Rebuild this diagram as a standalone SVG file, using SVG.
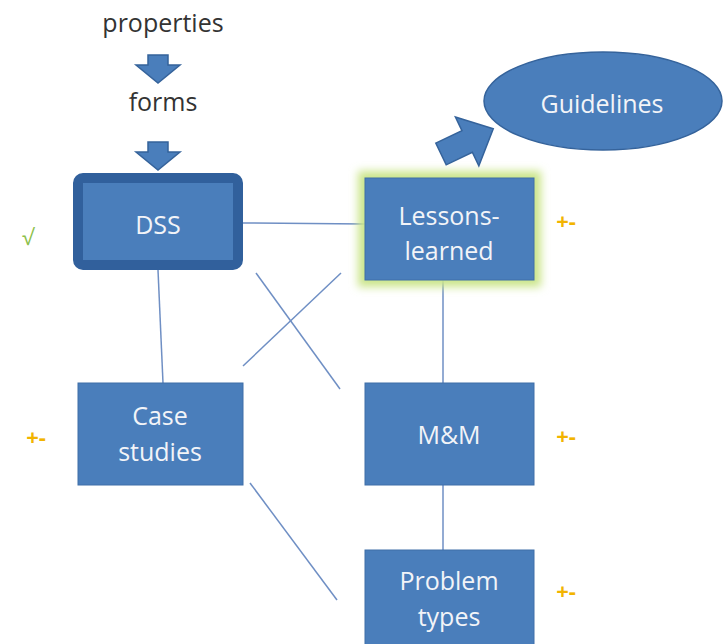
<svg xmlns="http://www.w3.org/2000/svg" width="728" height="644" viewBox="0 0 728 644">
  <defs>
    <style>
      .box { fill: #4a7ebb; stroke: #3f6fa8; stroke-width: 1; }
      .lbl { font-family: "Open Sans", "Liberation Sans", sans-serif; font-size: 25px; fill: #f2f4f8; text-anchor: middle; }
      .top { font-family: "Open Sans", "Liberation Sans", sans-serif; font-size: 25px; fill: #333333; text-anchor: middle; }
      .pm { font-family: "Open Sans", "Liberation Sans", sans-serif; font-size: 22px; font-weight: bold; fill: #f2b400; text-anchor: middle; }
      .ok { font-family: "Open Sans", "Liberation Sans", sans-serif; font-size: 22px; fill: #8cc04a; text-anchor: middle; }
      .conn { stroke: #6f8fc4; stroke-width: 1.5; fill: none; }
      .barrow { fill: #4a7ebb; stroke: #35639b; stroke-width: 1.5; stroke-linejoin: miter; }
    </style>
    <filter id="glow" x="-20%" y="-20%" width="140%" height="140%">
      <feGaussianBlur stdDeviation="4"/>
    </filter>
  </defs>
  <rect width="728" height="644" fill="#ffffff"/>

  <g id="connectors">
    <line class="conn" x1="243" y1="223" x2="365" y2="224"/>
    <line class="conn" x1="158" y1="270" x2="163" y2="383"/>
    <line class="conn" x1="443" y1="280" x2="443" y2="383"/>
    <line class="conn" x1="443" y1="485" x2="443" y2="550"/>
    <line class="conn" x1="256" y1="273" x2="340" y2="389"/>
    <line class="conn" x1="341" y1="273" x2="243" y2="366"/>
    <line class="conn" x1="250" y1="483" x2="337" y2="600"/>
  </g>

  <g id="properties">
    <text class="top" x="163" y="32">properties</text>
  </g>
  <g id="arrow1">
    <path class="barrow" d="M148,55 L168,55 L168,65 L180,65 L158,83 L136,65 L148,65 Z"/>
  </g>
  <g id="forms">
    <text class="top" x="163" y="111">forms</text>
  </g>
  <g id="arrow2">
    <path class="barrow" d="M148,142 L168,142 L168,152 L180,152 L158,170 L136,152 L148,152 Z"/>
  </g>

  <g id="dss">
    <rect x="78" y="178" width="160" height="87" rx="5" fill="#4a7ebb" stroke="#31609c" stroke-width="10"/>
    <text class="lbl" x="158" y="234">DSS</text>
  </g>

  <g id="lessons">
    <rect x="358" y="171" width="183" height="116" fill="#cbe58a" filter="url(#glow)"/>
    <rect class="box" x="365" y="178" width="169" height="102"/>
    <text class="lbl" x="449" y="225">Lessons-</text>
    <text class="lbl" x="449" y="260">learned</text>
  </g>

  <g id="guidelines">
    <ellipse cx="603" cy="101" rx="119" ry="49" fill="#4a7ebb" stroke="#35639b" stroke-width="1.5"/>
    <text class="lbl" x="602" y="113">Guidelines</text>
  </g>

  <g id="arrow-guidelines">
    <path class="barrow" transform="translate(441,154) rotate(-25.7)" d="M0,-12 L29,-12 L29,-27 L58,0 L29,27 L29,12 L0,12 Z"/>
  </g>

  <g id="case">
    <rect class="box" x="78" y="383" width="165" height="102"/>
    <text class="lbl" x="160" y="425">Case</text>
    <text class="lbl" x="160" y="461">studies</text>
  </g>

  <g id="mm">
    <rect class="box" x="365" y="383" width="169" height="102"/>
    <text class="lbl" x="449" y="444">M&amp;M</text>
  </g>

  <g id="problem">
    <rect class="box" x="365" y="550" width="169" height="100"/>
    <text class="lbl" x="449" y="590">Problem</text>
    <text class="lbl" x="449" y="626">types</text>
  </g>

  <g id="marks">
    <text class="ok" x="28" y="245">√</text>
    <text class="pm" x="36" y="445">+-</text>
    <text class="pm" x="566" y="229">+-</text>
    <text class="pm" x="566" y="444">+-</text>
    <text class="pm" x="566" y="599">+-</text>
  </g>
</svg>
